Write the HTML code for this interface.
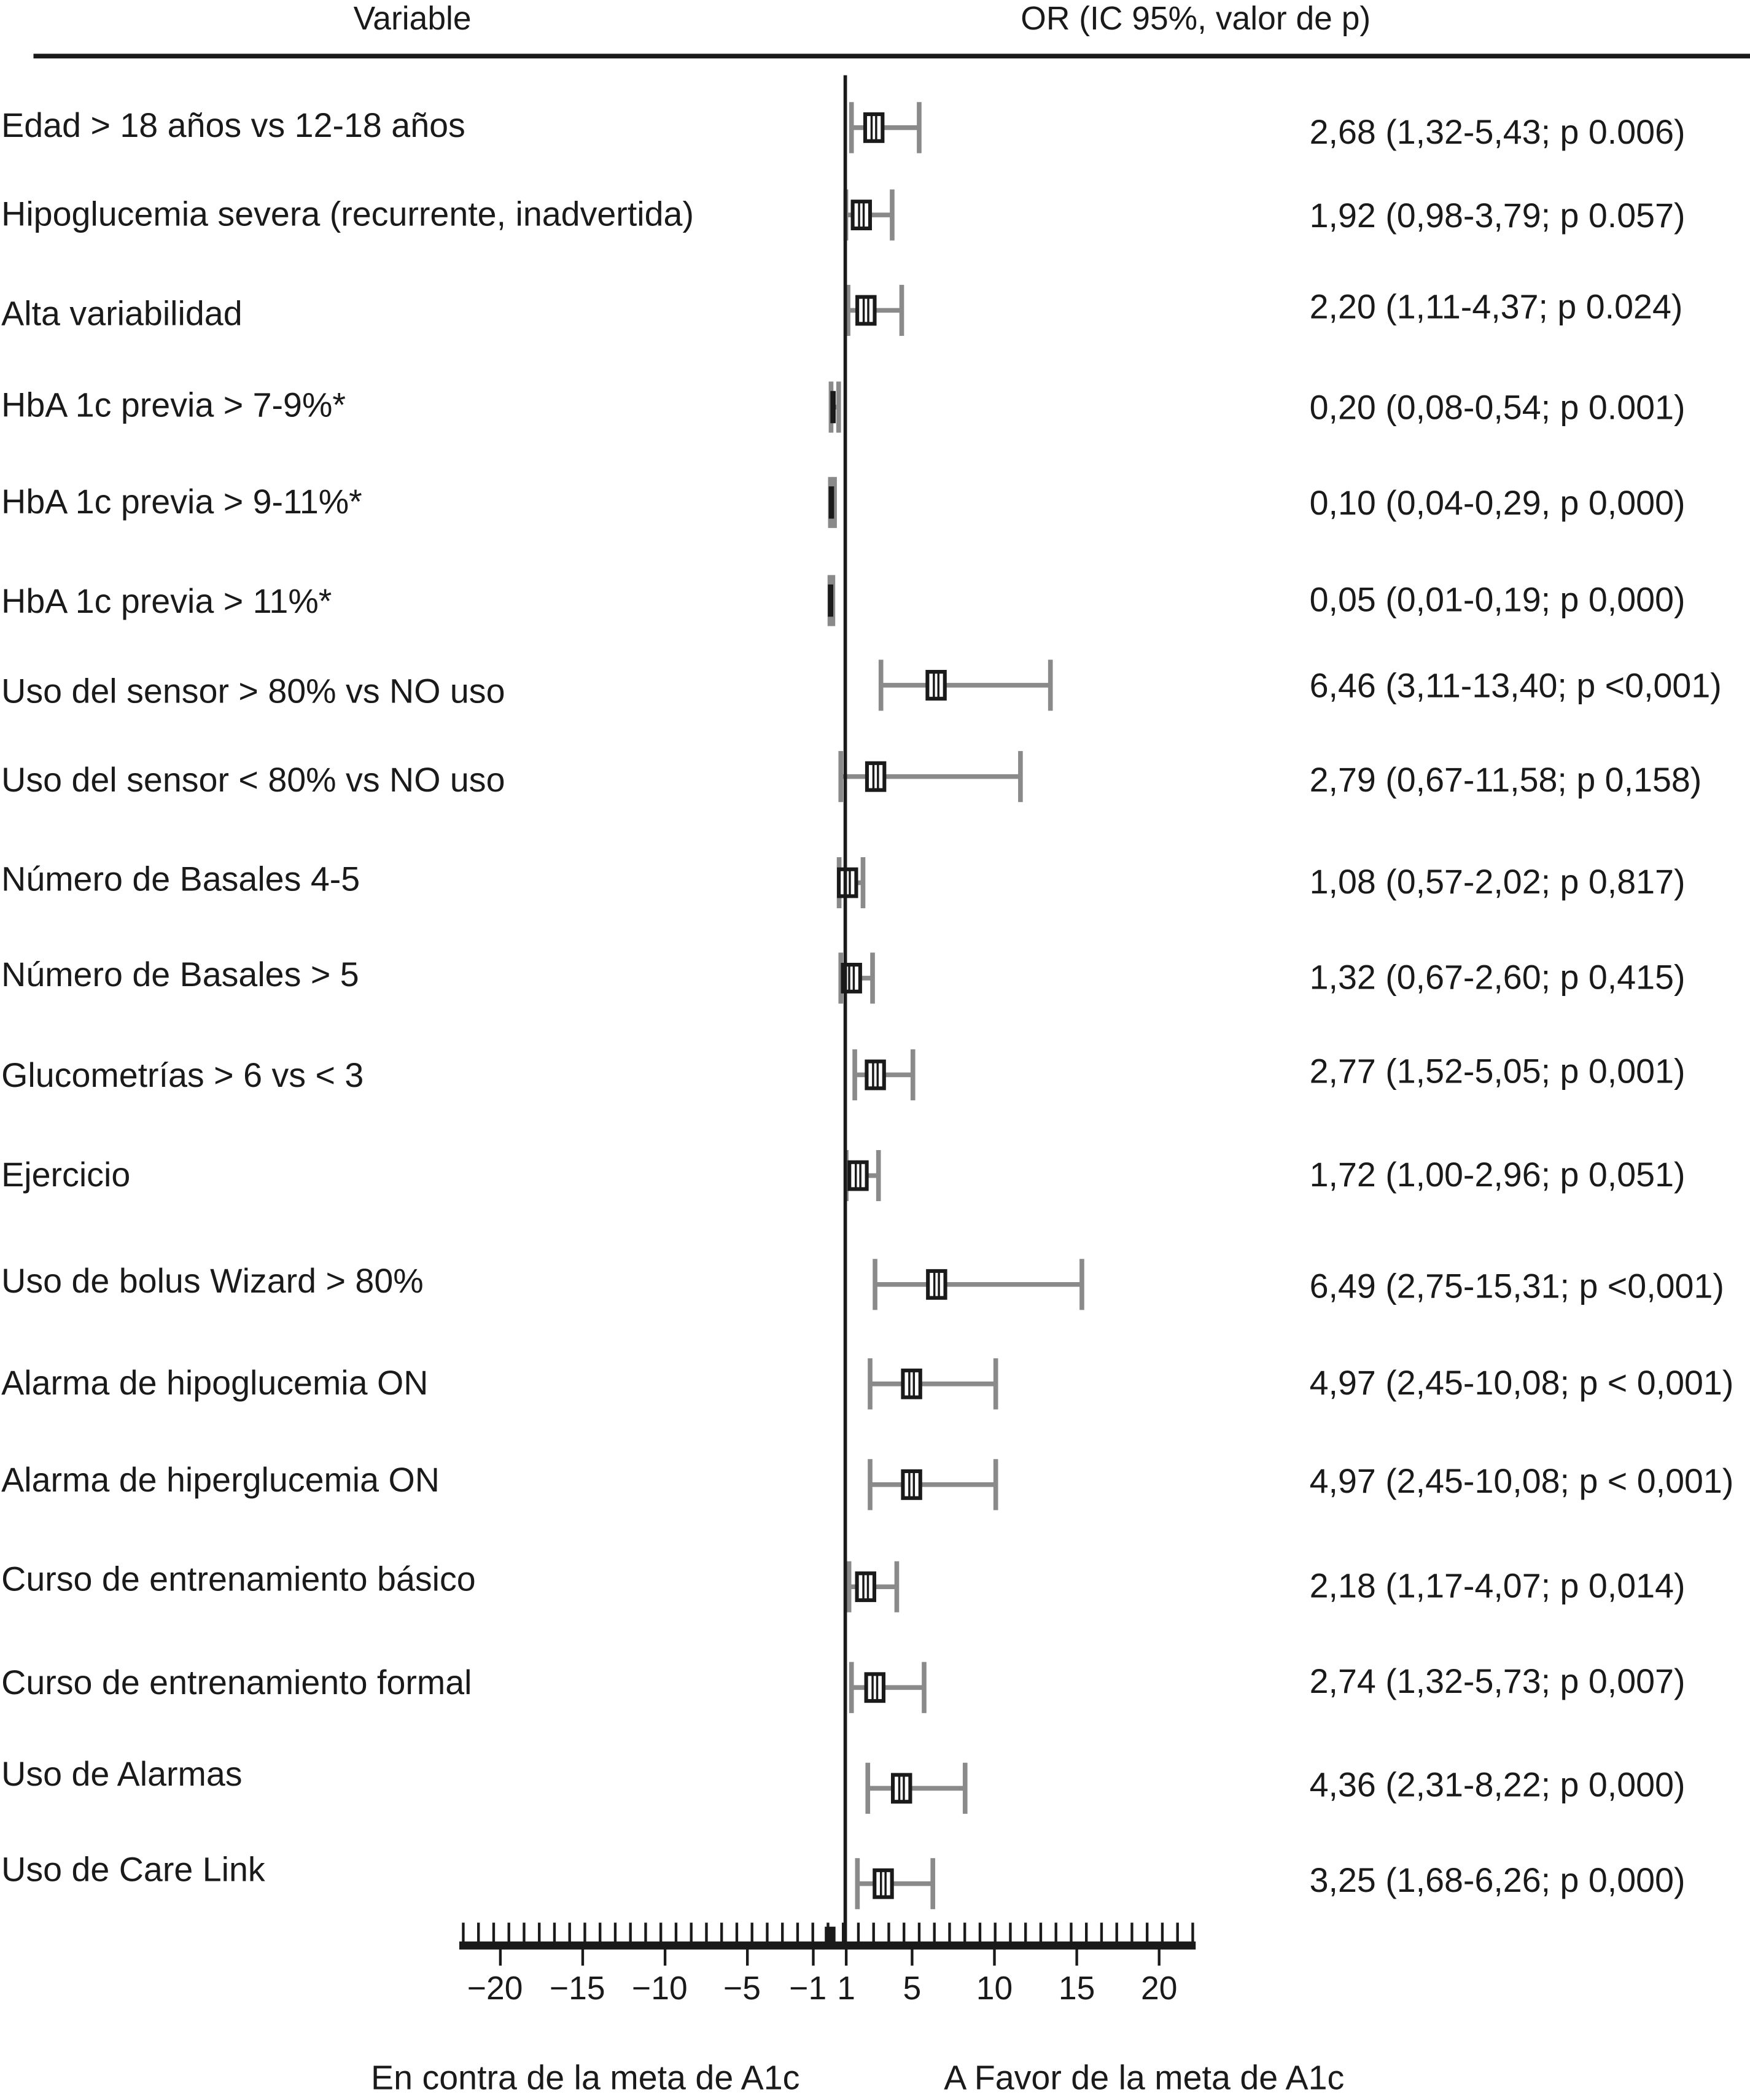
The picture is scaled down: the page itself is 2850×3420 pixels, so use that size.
<!DOCTYPE html>
<html><head><meta charset="utf-8"><style>
html,body{margin:0;padding:0;background:#fff;}
svg{display:block;}
text{font-family:"Liberation Sans",sans-serif;fill:#1a1a1a;}
</style></head><body>
<svg id="chart" width="2850" height="3420" viewBox="0 0 1307 1563" preserveAspectRatio="none" xmlns="http://www.w3.org/2000/svg">
<text x="308" y="22" font-size="24.5" text-anchor="middle">Variable</text>
<text x="893" y="22" font-size="24.5" text-anchor="middle">OR (IC 95%, valor de p)</text>
<rect x="25" y="40" width="1282" height="3.5" fill="#1a1a1a"/>
<g id="rows"></g>
<g id="axis"></g>
<text x="277" y="1555" font-size="25.5">En contra de la meta de A1c</text>
<text x="705" y="1555" font-size="25.5">A Favor de la meta de A1c</text>
</svg>
<script>
const labels=["Edad > 18 años vs 12-18 años","Hipoglucemia severa (recurrente, inadvertida)","Alta variabilidad","HbA 1c previa > 7-9%*","HbA 1c previa > 9-11%*","HbA 1c previa > 11%*","Uso del sensor > 80% vs NO uso","Uso del sensor < 80% vs NO uso","Número de Basales 4-5","Número de Basales > 5","Glucometrías > 6 vs < 3","Ejercicio","Uso de bolus Wizard > 80%","Alarma de hipoglucemia ON","Alarma de hiperglucemia ON","Curso de entrenamiento básico","Curso de entrenamiento formal","Uso de Alarmas","Uso de Care Link"];
const orValues=[2.68,1.92,2.20,0.20,0.10,0.05,6.46,2.79,1.08,1.32,2.77,1.72,6.49,4.97,4.97,2.18,2.74,4.36,3.25];
const lowerCI=[1.32,0.98,1.11,0.08,0.04,0.01,3.11,0.67,0.57,0.67,1.52,1.00,2.75,2.45,2.45,1.17,1.32,2.31,1.68];
const upperCI=[5.43,3.79,4.37,0.54,0.29,0.19,13.40,11.58,2.02,2.60,5.05,2.96,15.31,10.08,10.08,4.07,5.73,8.22,6.26];
const resultText=["2,68 (1,32-5,43; p 0.006)","1,92 (0,98-3,79; p 0.057)","2,20 (1,11-4,37; p 0.024)","0,20 (0,08-0,54; p 0.001)","0,10 (0,04-0,29, p 0,000)","0,05 (0,01-0,19; p 0,000)","6,46 (3,11-13,40; p <0,001)","2,79 (0,67-11,58; p 0,158)","1,08 (0,57-2,02; p 0,817)","1,32 (0,67-2,60; p 0,415)","2,77 (1,52-5,05; p 0,001)","1,72 (1,00-2,96; p 0,051)","6,49 (2,75-15,31; p <0,001)","4,97 (2,45-10,08; p < 0,001)","4,97 (2,45-10,08; p < 0,001)","2,18 (1,17-4,07; p 0,014)","2,74 (1,32-5,73; p 0,007)","4,36 (2,31-8,22; p 0,000)","3,25 (1,68-6,26; p 0,000)"];
const tickValues=[-20,-15,-10,-5,-1,1,5,10,15,20];
const tickLabels=["−20","−15","−10","−5","−1","1","5","10","15","20"];

const rowY=[95,160,231,303,374,447,510,578,657,728,800,875,956,1030,1105,1181,1256,1331,1402];
const labelDy=[-2,-1,2,-2,-1,0,4,2,-3,-3,0,-1,-3,-1,-4,-6,-4,-11,-11];
const resDy=[1,-2,-5,-2,-2,-3,-2,0,-3,-3,-5,-3,-1,-3,-5,-3,-7,-5,-5];
function xs(v){return 632+(v-1)*12.3;}
const NS="http://www.w3.org/2000/svg";
function mk(tag,attrs,parent){const e=document.createElementNS(NS,tag);for(const k in attrs)e.setAttribute(k,attrs[k]);parent.appendChild(e);return e;}
const rows=document.getElementById('rows');
const axis=document.getElementById('axis');
let vl=mk('rect',{x:630,y:56,width:2.6,height:1392,fill:'#1a1a1a'},axis);


labels.forEach((lab,i)=>{
  const y=rowY[i];
  const g=mk('g',{},rows);
  
  
  const t=mk('text',{x:1,y:y+labelDy[i]+9,'font-size':25.5},g);t.textContent=lab;
  
  
  const r=mk('text',{x:978,y:y+resDy[i]+11,'font-size':25.5},g);r.textContent=resultText[i];
  
  
  const x1=xs(lowerCI[i]),x2=xs(upperCI[i]),xm=xs(orValues[i]);
  const ci=mk('line',{x1:x1,x2:x2,y1:y,y2:y,stroke:'#8a8a8a','stroke-width':3.5},g);
  
  
  [x1,x2].forEach(cx=>{const c=mk('line',{x1:cx,x2:cx,y1:y-19,y2:y+19,stroke:'#8a8a8a','stroke-width':3.5},g);
    
    });
  if(orValues[i]>=1){
    const b=mk('rect',{x:xm-6.5,y:y-10,width:13,height:20,fill:'#fff',stroke:'#1a1a1a','stroke-width':2.8},g);
    
    
    const l1=mk('line',{x1:xm-1.7,x2:xm-1.7,y1:y-10,y2:y+10,stroke:'#1a1a1a','stroke-width':1.6},g);
    
    
    const l2=mk('line',{x1:xm+1.7,x2:xm+1.7,y1:y-10,y2:y+10,stroke:'#1a1a1a','stroke-width':1.6},g);
    
    
  } else {
    const b=mk('rect',{x:xm-2,y:y-12,width:4,height:24,fill:'#1a1a1a'},g);
    
    
  }
});
let bl=mk('rect',{x:343,y:1445,width:550,height:6,fill:'#1a1a1a'},axis);


for(let k=0;k<49;k++){
  const tx=346+k*11.35;
  if(tx>891)break;
  const m=mk('line',{x1:tx,x2:tx,y1:1431,y2:1446,stroke:'#1a1a1a','stroke-width':2},axis);
  
  
}
let blk=mk('rect',{x:616,y:1434,width:8,height:12,fill:'#1a1a1a'},axis);


tickValues.forEach((v,i)=>{
  const tx=xs(v);
  const t=mk('line',{x1:tx,x2:tx,y1:1450,y2:1463,stroke:'#1a1a1a','stroke-width':2},axis);
  
  
  const lb=mk('text',{x:tx-(v<0?4:0),y:1488,'font-size':24.5,'text-anchor':'middle'},axis);lb.textContent=tickLabels[i];
  
  
});
</script>
</body></html>
